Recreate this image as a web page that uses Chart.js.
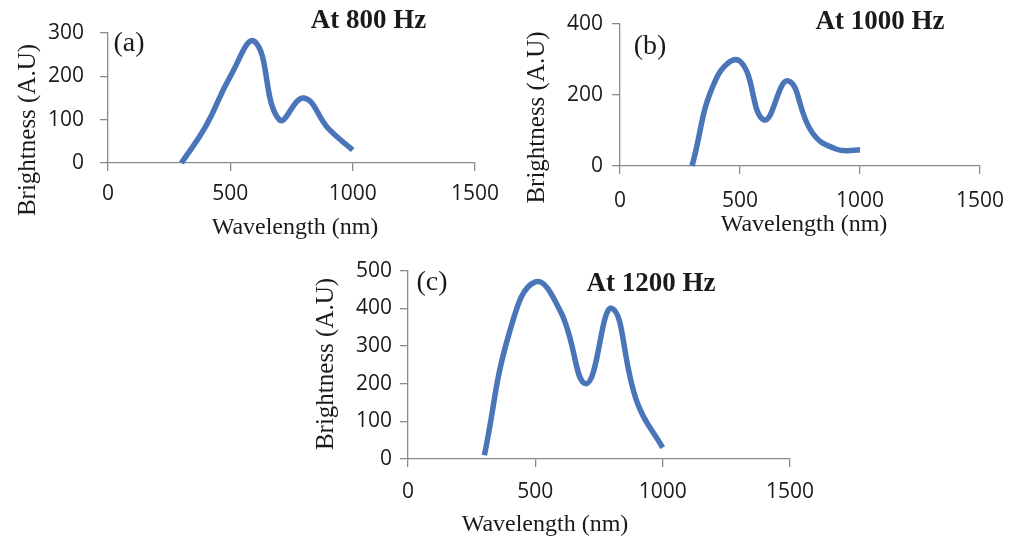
<!DOCTYPE html>
<html lang="en">
<head>
<meta charset="UTF-8">
<title>Brightness vs wavelength</title>
<script src="https://cdn.jsdelivr.net/npm/chart.js@4.4.0/dist/chart.umd.min.js"></script>
<style>
  body { margin: 0; background: #fff; }
  .figure { position: relative; width: 1018px; height: 540px; }
  canvas { position: absolute; }
  #panelA { left: 0; top: 0; }
  #panelB { left: 509px; top: 0; }
  #panelC { left: 290px; top: 250px; }
</style>
</head>
<body>
<div class="figure">
  <canvas id="panelA" width="509" height="250"></canvas>
  <canvas id="panelB" width="509" height="250"></canvas>
  <canvas id="panelC" width="540" height="290"></canvas>
</div>
<script>
// wavelength samples (nm), shared by the three spectra
const wavelengths = [300, 400, 500, 600, 700, 800, 900, 1000];
// brightness (A.U) at each drive frequency
const brightness800 = [0, 85, 200, 280, 100, 150, 80, 30];
const brightness1000 = [0, 245, 295, 130, 240, 95, 48, 45];
const brightness1200 = [10, 340, 470, 390, 200, 400, 150, 30];
// axis ranges / tick steps
const xMax = 1500, xStep = 500;
const yMaxes = [300, 400, 500];
const ySteps = [100, 200, 100];

const lineColor = '#4a76b9';
const axisColor = '#8a8a8a';
const textColor = '#1a1a1a';
const serif = '"Liberation Serif", "Times New Roman", serif';
const tickFont = { family: '"Open Sans", sans-serif', size: 21 };

// draws the panel letter, heading and axis titles
function textPlugin(items) {
  return {
    id: 'panelText',
    afterDraw(chart) {
      const ctx = chart.ctx;
      items.forEach(it => {
        ctx.save();
        ctx.font = it.font;
        ctx.fillStyle = textColor;
        ctx.textAlign = 'center';
        ctx.textBaseline = 'middle';
        ctx.translate(it.x, it.y);
        if (it.rotate) ctx.rotate(it.rotate);
        ctx.fillText(it.text, 0, 0);
        ctx.restore();
      });
    }
  };
}

function axisGrid() {
  return { display: true, drawOnChartArea: false, drawTicks: true, tickLength: 8, color: axisColor, lineWidth: 1.3 };
}

function makePanel(canvasId, values, yMax, yStep, lay, texts) {
  return new Chart(document.getElementById(canvasId), {
    type: 'line',
    data: {
      datasets: [{
        data: wavelengths.map((w, i) => ({ x: w, y: values[i] })),
        borderColor: lineColor,
        borderWidth: 5.5,
        tension: 0.45,
        pointRadius: 0,
        fill: false,
        clip: false,
        borderCapStyle: 'butt',
        borderJoinStyle: 'round'
      }]
    },
    options: {
      responsive: false,
      animation: false,
      devicePixelRatio: 1,
      layout: { padding: { left: 0, top: lay.top, right: lay.right, bottom: 0 } },
      plugins: { legend: { display: false }, tooltip: { enabled: false } },
      scales: {
        x: {
          type: 'linear', min: 0, max: xMax,
          ticks: { stepSize: xStep, padding: lay.xPad, font: tickFont, color: textColor, callback: v => String(v) },
          grid: axisGrid(),
          border: { display: true, color: axisColor, width: 1.3 },
          afterFit: s => { s.height = lay.xHeight; }
        },
        y: {
          type: 'linear', min: 0, max: yMax,
          ticks: { stepSize: yStep, padding: lay.yPad, font: tickFont, color: textColor, callback: v => String(v) },
          grid: axisGrid(),
          border: { display: true, color: axisColor, width: 1.3 },
          afterFit: s => { s.width = lay.yWidth; }
        }
      }
    },
    plugins: [textPlugin(texts)]
  });
}

const titleFont = 'bold 27px ' + serif;
const letterFont = '28px ' + serif;
const xTitleFont = '24px ' + serif;
const yTitleFont = '25px ' + serif;
const up = -Math.PI / 2;

makePanel('panelA', brightness800, yMaxes[0], ySteps[0],
  { top: 33, right: 30, yWidth: 108, xHeight: 87, yPad: 16, xPad: 10 },
  [
    { text: '(a)', x: 129, y: 43.5, font: letterFont },
    { text: 'At 800 Hz', x: 368.5, y: 21, font: titleFont },
    { text: 'Wavelength (nm)', x: 295, y: 228, font: xTitleFont },
    { text: 'Brightness (A.U)', x: 28, y: 130, font: yTitleFont, rotate: up }
  ]);

makePanel('panelB', brightness1000, yMaxes[1], ySteps[1],
  { top: 24, right: 29, yWidth: 111, xHeight: 84, yPad: 9, xPad: 14 },
  [
    { text: '(b)', x: 141, y: 46.5, font: letterFont },
    { text: 'At 1000 Hz', x: 371, y: 22, font: titleFont },
    { text: 'Wavelength (nm)', x: 295, y: 225, font: xTitleFont },
    { text: 'Brightness (A.U)', x: 28, y: 117.5, font: yTitleFont, rotate: up }
  ]);

makePanel('panelC', brightness1200, yMaxes[2], ySteps[2],
  { top: 19, right: 40, yWidth: 118, xHeight: 81, yPad: 8, xPad: 12 },
  [
    { text: '(c)', x: 142, y: 33, font: letterFont },
    { text: 'At 1200 Hz', x: 361, y: 34, font: titleFont },
    { text: 'Wavelength (nm)', x: 255, y: 275, font: xTitleFont },
    { text: 'Brightness (A.U)', x: 36, y: 114, font: yTitleFont, rotate: up }
  ]);
</script>
</body>
</html>
